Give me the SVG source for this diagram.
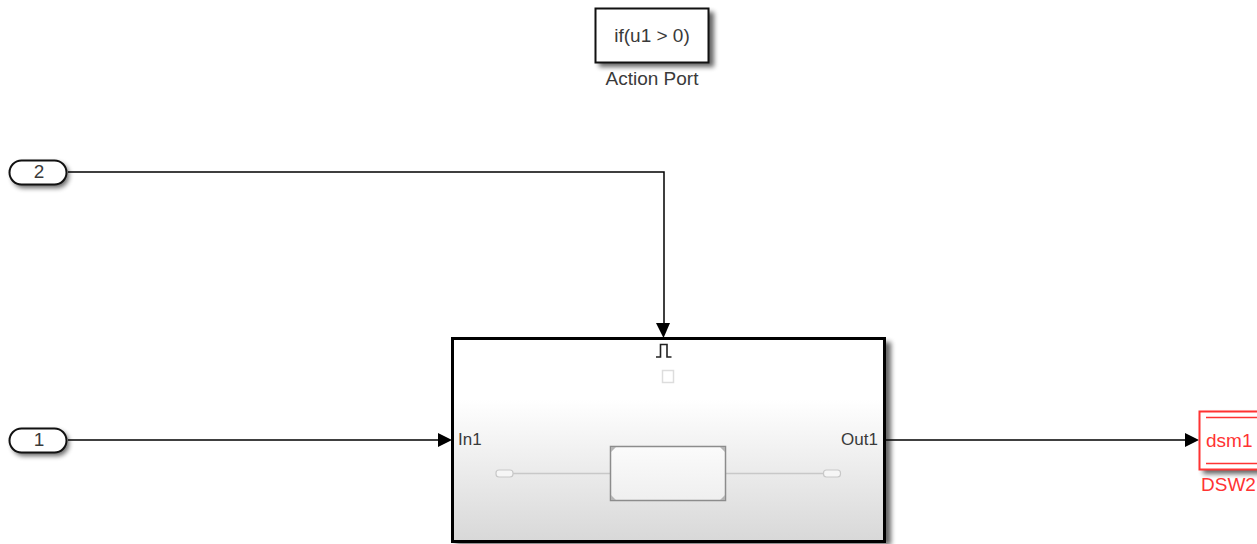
<svg xmlns="http://www.w3.org/2000/svg" width="1257" height="544" viewBox="0 0 1257 544">
<style>
text{font-family:"Liberation Sans",Arial,sans-serif;font-size:19px;fill:#3a3a3a}
.m{text-anchor:middle}
.port{font-size:17px}
.red{fill:#f33}
.wire{fill:none;stroke:#000;stroke-width:1.500}
.head{fill:#000;stroke:none}
.shadow{fill:#000;opacity:.6;filter:url(#blur)}
</style>
<defs>
<filter id="blur" x="-30%" y="-50%" width="160%" height="200%"><feGaussianBlur stdDeviation="2.500"/></filter>
<linearGradient id="sub" x1="0" y1="0" x2="0" y2="1">
<stop offset="0" stop-color="#fff"/><stop offset=".3" stop-color="#fff"/><stop offset="1" stop-color="#d8d8d8"/>
</linearGradient>
<linearGradient id="inner" x1="0" y1="0" x2="0" y2="1">
<stop offset="0" stop-color="#fbfbfb"/><stop offset="1" stop-color="#efefef"/>
</linearGradient>
</defs>
<rect width="1257" height="544" fill="#fff"/>
<g id="connectors">
<path class="wire" d="M68 172H664V326"/>
<path class="head" d="M656 323H670L663.500 338Z"/>
<path class="wire" d="M68 440H440"/>
<path class="head" d="M438 433L452 440L438 447Z"/>
<path class="wire" d="M885 440H1187"/>
<path class="head" d="M1185 433L1199 440L1185 447Z"/>
</g>
<g id="action-port">
<rect class="shadow" x="599" y="12" width="115" height="55"/>
<rect x="595.500" y="8.500" width="113" height="54" fill="#fff" stroke="#111" stroke-width="2"/>
<text class="m" x="652" y="42">if(u1 &gt; 0)</text>
<text class="m" x="652" y="85">Action Port</text>
</g>
<g id="inport-2">
<rect class="shadow" x="12" y="163" width="57" height="25" rx="12"/>
<rect x="9.500" y="160.500" width="57" height="24" rx="12" fill="#fff" stroke="#111" stroke-width="2"/>
<text class="m" x="39" y="178">2</text>
</g>
<g id="inport-1">
<rect class="shadow" x="12" y="431" width="57" height="25" rx="12"/>
<rect x="9.500" y="428.500" width="57" height="24" rx="12" fill="#fff" stroke="#111" stroke-width="2"/>
<text class="m" x="39" y="446">1</text>
</g>
<g id="subsystem">
<rect class="shadow" x="456" y="342" width="435" height="203"/>
<rect x="452.500" y="338.500" width="432" height="203" fill="url(#sub)" stroke="#000" stroke-width="3"/>
<path d="M656 357H660.500V344.500H667V357H671.500" fill="none" stroke="#222" stroke-width="1.600"/>
<rect x="662.500" y="370.500" width="11" height="12" fill="#fff" stroke="#ddd" stroke-width="1.500"/>
<text class="port" x="458" y="445">In1</text>
<text class="port" x="841" y="445">Out1</text>
<path d="M513 473.500H610M726 473.500H823" fill="none" stroke="#c8c8c8" stroke-width="1.500"/>
<rect x="496" y="470" width="17" height="7" rx="3" fill="#f6f6f6" stroke="#c8c8c8" stroke-width="1.200"/>
<rect x="823.500" y="470" width="17" height="7" rx="3" fill="#f6f6f6" stroke="#c8c8c8" stroke-width="1.200"/>
<rect x="610.500" y="446.500" width="115" height="54" fill="url(#inner)" stroke="#8c8c8c" stroke-width="1.500"/>
<path d="M611 447h5l-5 5ZM725 447h-5l5 5ZM611 500h5l-5-5ZM725 500h-5l5-5Z" fill="#b4b4b4"/>
</g>
<g id="dsw2">
<rect class="shadow" x="1203" y="415" width="60" height="59"/>
<rect x="1199.500" y="411.500" width="62" height="58" fill="#fff" stroke="#f33" stroke-width="2"/>
<path d="M1206 417.500H1257M1206 463.500H1257" fill="none" stroke="#f33" stroke-width="1.500"/>
<text class="red" x="1206" y="447">dsm1</text>
<text class="red" x="1201" y="491">DSW2</text>
</g>
</svg>
